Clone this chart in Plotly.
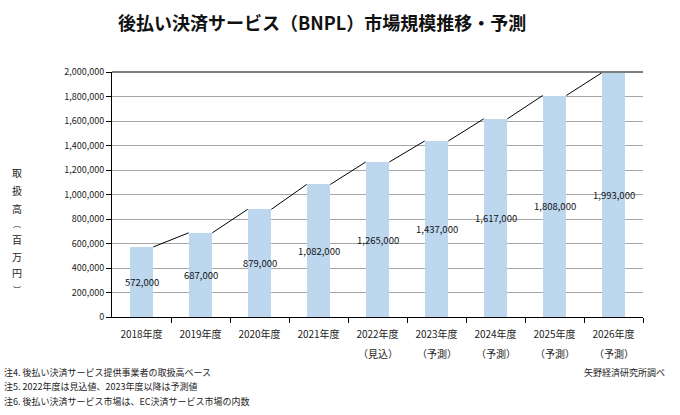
import plotly.graph_objects as go

years = ["2018年度", "2019年度", "2020年度", "2021年度", "2022年度",
         "2023年度", "2024年度", "2025年度", "2026年度"]
sublabels = ["", "", "", "", "（見込）", "（予測）", "（予測）", "（予測）", "（予測）"]
values = [572000, 687000, 879000, 1082000, 1265000, 1437000, 1617000, 1808000, 1993000]
y_ticks = [0, 200000, 400000, 600000, 800000, 1000000, 1200000, 1400000,
           1600000, 1800000, 2000000]
notes = ["注4. 後払い決済サービス提供事業者の取扱高ベース",
         "注5. 2022年度は見込値、2023年度以降は予測値",
         "注6. 後払い決済サービス市場は、EC決済サービス市場の内数"]
source = "矢野経済研究所調べ"
title = "後払い決済サービス（BNPL）市場規模推移・予測"
ytitle = "取扱高︵百万円︶"

FONT = "Noto Sans CJK JP"
BW = 0.4
xs = list(range(len(years)))

W, H = 680, 415
L, R, T, B = 112, 37, 72, 98
pw, ph = W - L - R, H - T - B


def px(x):
    return (x - L) / pw


def py(y):
    return (H - B - y) / ph


fig = go.Figure()
fig.add_trace(go.Bar(
    x=xs, y=values, width=BW, marker=dict(color="#BDD7EE", line=dict(width=0)),
    hoverinfo="skip", showlegend=False))

# series connector lines (top-right of bar to top-left of next bar)
lx, ly = [], []
for i in range(len(values) - 1):
    lx += [xs[i] + BW / 2, xs[i + 1] - BW / 2, None]
    ly += [values[i], values[i + 1], None]
fig.add_trace(go.Scatter(x=lx, y=ly, mode="lines", line=dict(color="black", width=1),
                         hoverinfo="skip", showlegend=False))

# dummy trace for boundary tick axis
fig.add_trace(go.Scatter(x=[0], y=[0], xaxis="x2", mode="markers",
                         marker=dict(opacity=0), hoverinfo="skip", showlegend=False))

# data labels centered in bars
for x, v in zip(xs, values):
    fig.add_annotation(x=x, y=v / 2, text=f"{v:,}", showarrow=False,
                       xanchor="center", yanchor="middle",
                       font=dict(family=FONT, size=9.5, color="#111"))

# second line of category labels
for x, s in zip(xs, sublabels):
    if s:
        fig.add_annotation(x=x, y=py(353), yref="paper", text=s, showarrow=False,
                           xanchor="center", yanchor="middle",
                           font=dict(family=FONT, size=10, color="#222"))

# y title (vertical, one character per line)
char_y = [172, 190, 208, 223, 239, 256, 272, 289]
for ch, cy in zip(ytitle, char_y):
    small = ch in "︵︶"
    fig.add_annotation(x=px(17), y=py(cy), xref="paper", yref="paper",
                       text=ch, showarrow=False, xanchor="center", yanchor="middle",
                       font=dict(family=FONT, size=8 if small else 10, color="#222"))

fig.add_annotation(x=px(322), y=py(22), xref="paper", yref="paper",
                   text=f"<b>{title}</b>", showarrow=False,
                   xanchor="center", yanchor="middle",
                   font=dict(family=FONT, size=18, color="#111"))

for i, n in enumerate(notes):
    fig.add_annotation(x=px(2), y=py(372 + i * 14.5), xref="paper", yref="paper",
                       text=n, showarrow=False, xanchor="left", yanchor="middle",
                       font=dict(family=FONT, size=9, color="#222"))
fig.add_annotation(x=px(667), y=py(372), xref="paper", yref="paper", text=source,
                   showarrow=False, xanchor="right", yanchor="middle",
                   font=dict(family=FONT, size=9, color="#222"))

fig.update_layout(
    width=W, height=H, margin=dict(l=L, r=R, t=T, b=B, autoexpand=False),
    plot_bgcolor="white", paper_bgcolor="white", bargap=0,
    font=dict(family=FONT, color="#222"),
    xaxis=dict(range=[-0.5, 8.5], tickvals=xs, ticktext=years, ticks="",
               showgrid=False, zeroline=False, showline=True, linecolor="black",
               linewidth=1, tickfont=dict(size=10), ticklabelstandoff=8,
               fixedrange=True),
    xaxis2=dict(range=[-0.5, 8.5], overlaying="x", anchor="y", side="bottom",
                tickvals=[i + 0.5 for i in xs], ticks="outside", ticklen=5,
                tickcolor="black", showticklabels=False, showgrid=False,
                zeroline=False, showline=False),
    yaxis=dict(range=[0, 2000000], tickvals=y_ticks,
               ticktext=[f"{v:,}" for v in y_ticks], ticks="outside", ticklen=5,
               tickcolor="black", showline=True, linecolor="black", linewidth=1,
               showgrid=True, gridcolor="#A6A6A6", gridwidth=1, zeroline=False,
               tickfont=dict(size=9), fixedrange=True),
    shapes=[dict(type="line", xref="paper", yref="paper", x0=0, x1=1, y0=1, y1=1,
                 line=dict(color="black", width=1))],
)

fig.write_html("out.html", config={"displayModeBar": False},
               post_script="document.body.style.margin='0';")
